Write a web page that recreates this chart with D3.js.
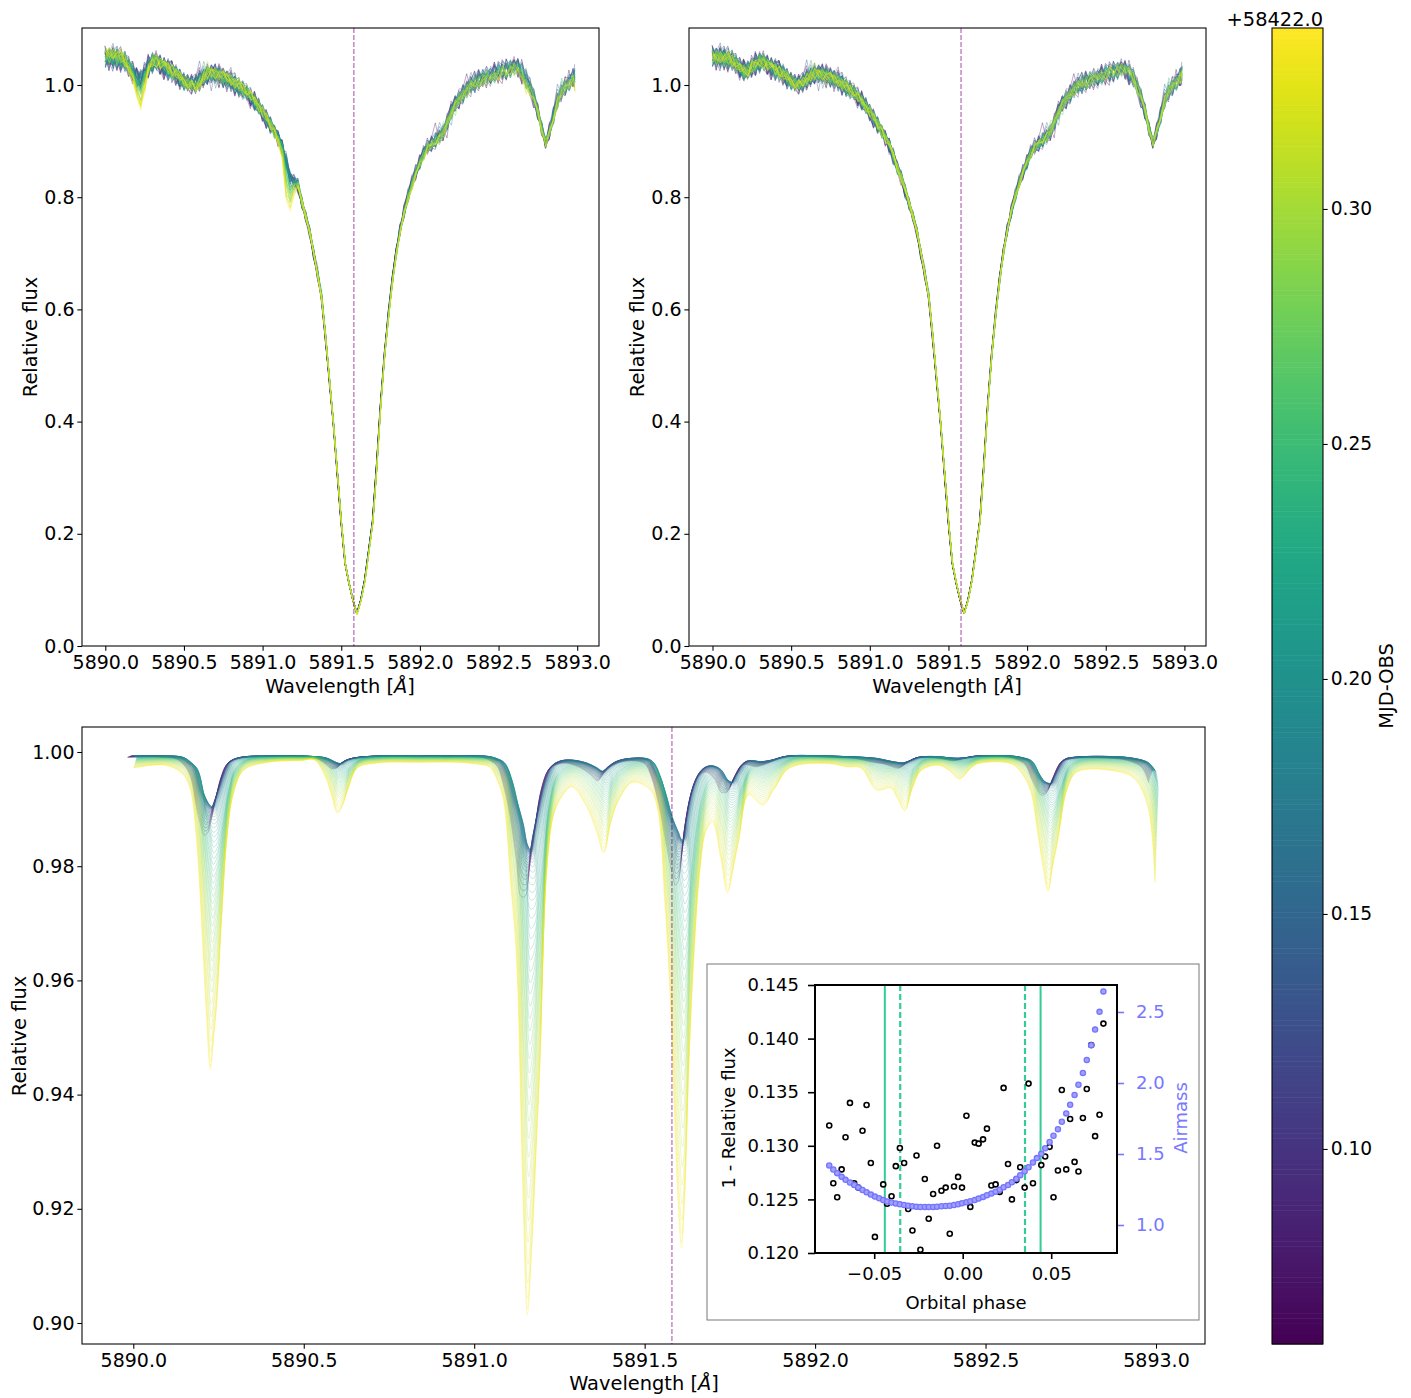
<!DOCTYPE html>
<html>
<head>
<meta charset="utf-8">
<title>Relative flux spectra</title>
<script src="https://cdn.jsdelivr.net/npm/d3@7"></script>
<style>
  body { margin: 0; background: #fff; }
  text { font-family: "DejaVu Sans", sans-serif; fill: #000; }
</style>
</head>
<body>
<svg id="chart" width="1411" height="1398"></svg>
<script>
// --- values ---

// one entry per exposure (67)
var mjdObs = [.0585,.0627,.0670,.0712,.0755,.0797,.0840,.0882,.0924,.0967,.1009,.1052,.1094,.1136,.1179,.1221,.1264,.1306,.1349,.1391,.1433,.1476,.1518,.1561,.1603,.1646,.1688,.1730,.1773,.1815,.1858,.1900,.1942,.1985,.2027,.2070,.2112,.2155,.2197,.2239,.2282,.2324,.2367,.2409,.2452,.2494,.2536,.2579,.2621,.2664,.2706,.2748,.2791,.2833,.2876,.2918,.2961,.3003,.3045,.3088,.3130,.3173,.3215,.3258,.3300,.3342,.3385];
var orbitalPhase = [-.0754,-.0731,-.0709,-.0684,-.0662,-.0637,-.0613,-.0590,-.0566,-.0543,-.0519,-.0496,-.0472,-.0449,-.0427,-.0402,-.0378,-.0355,-.0331,-.0308,-.0284,-.0261,-.0239,-.0214,-.0192,-.0167,-.0145,-.0120,-.0096,-.0073,-.0049,-.0026,-.0004,.0021,.0043,.0068,.0090,.0115,.0137,.0162,.0186,.0209,.0231,.0256,.0278,.0303,.0325,.0350,.0372,.0397,.0419,.0444,.0466,.0491,.0513,.0538,.0560,.0585,.0607,.0632,.0654,.0679,.0701,.0726,.0748,.0773,.0795];
var lineDepth = [.1319,.1265,.1252,.1278,.1308,.1340,.1265,.1261,.1314,.1338,.1284,.1215,null,.1264,.1246,.1253,.1281,.1298,.1284,.1241,.1221,.1291,.1203,.1269,.1232,.1255,.1300,.1258,.1261,.1218,.1262,.1271,.1261,.1328,.1243,.1303,.1302,.1306,.1316,.1263,.1264,.1257,.1354,.1283,.1250,.1268,.1280,.1261,.1358,.1265,null,.1282,.1290,.1299,.1252,.1277,.1352,.1278,.1325,.1285,.1276,.1326,.1353,.1394,.1309,.1329,.1414];
var airmass = [1.419,1.391,1.365,1.339,1.318,1.299,1.282,1.264,1.247,1.231,1.214,1.200,1.188,1.176,1.165,1.158,1.151,1.146,1.141,1.136,1.132,1.129,1.127,1.127,1.127,1.127,1.129,1.132,1.134,1.136,1.141,1.146,1.153,1.160,1.167,1.176,1.186,1.198,1.209,1.221,1.235,1.249,1.266,1.282,1.301,1.325,1.351,1.379,1.407,1.440,1.471,1.501,1.541,1.584,1.628,1.675,1.727,1.786,1.847,1.915,1.988,2.071,2.162,2.266,2.376,2.501,2.645];
// level of the telluric dip near 5890.23 in each exposure, and its small wavelength drift
var dipLevel = [.9855,.9862,.9868,.9874,.9878,.9883,.9887,.9890,.9893,.9896,.9898,.9900,.9902,.9903,.9904,.9905,.9905,.9906,.9906,.9906,.9907,.9907,.9907,.9907,.9906,.9906,.9905,.9904,.9902,.9900,.9897,.9893,.9888,.9882,.9875,.9868,.9860,.9852,.9843,.9834,.9824,.9814,.9804,.9793,.9782,.9771,.9760,.9748,.9736,.9724,.9711,.9697,.9683,.9668,.9652,.9636,.9619,.9601,.9582,.9561,.9539,.9518,.9497,.9478,.9463,.9453,.9447];
var lineShift = [-.018,-.017,-.016,-.015,-.014,-.013,-.012,-.011,-.010,-.010,-.009,-.008,-.008,-.007,-.007,-.006,-.006,-.005,-.005,-.004,-.004,-.003,-.002,-.002,-.001,0,.001,.001,.002,.003,.004,.004,.005,.006,.007,.007,.008,.009,.009,.010,.010,.010,.009,.009,.009,.008,.008,.008,.007,.007,.007,.006,.006,.006,.005,.005,.004,.004,.004,.003,.003,.002,.002,.001,.001,0,0];

// bottom panel: the shallowest and deepest telluric curves on a common wavelength list
var tellWave = [5890,5890.094,5890.144,5890.167,5890.185,5890.203,5890.214,5890.226,5890.235,5890.244,5890.258,5890.273,5890.291,5890.323,5890.396,5890.49,5890.531,5890.564,5890.581,5890.599,5890.613,5890.631,5890.657,5890.719,5890.842,5890.951,5891.018,5891.045,5891.068,5891.086,5891.107,5891.124,5891.142,5891.156,5891.168,5891.18,5891.192,5891.212,5891.233,5891.256,5891.286,5891.33,5891.359,5891.38,5891.4,5891.424,5891.465,5891.517,5891.538,5891.559,5891.576,5891.588,5891.6,5891.608,5891.617,5891.629,5891.644,5891.661,5891.679,5891.699,5891.723,5891.743,5891.761,5891.776,5891.805,5891.846,5891.878,5891.925,5892.037,5892.093,5892.134,5892.181,5892.222,5892.242,5892.263,5892.284,5892.31,5892.36,5892.392,5892.424,5892.457,5892.48,5892.577,5892.609,5892.633,5892.653,5892.671,5892.683,5892.697,5892.712,5892.738,5892.768,5892.876,5892.935,5892.976,5892.997];
var tellDeep = [.9972,.9977,.9962,.9935,.985,.9671,.9545,.9443,.9495,.9553,.97,.984,.9921,.9968,.9982,.9985,.9986,.9956,.9925,.9893,.9905,.9938,.9972,.9981,.9982,.9982,.9978,.9974,.995,.9915,.977,.964,.925,.9014,.912,.928,.9443,.9788,.989,.9921,.9939,.9904,.986,.9823,.9875,.9916,.9947,.9933,.99,.9741,.956,.936,.919,.9131,.9215,.9443,.9641,.9788,.986,.9877,.9815,.9753,.98,.9846,.9925,.9907,.9933,.9972,.998,.9974,.9972,.9933,.9937,.9918,.9897,.9935,.9967,.9977,.9968,.9953,.9972,.998,.9979,.996,.993,.9858,.979,.9755,.98,.9846,.9933,.9965,.9967,.9954,.9904,.977];
var tellShallow = [.9993,.9993,.9991,.9982,.9972,.9933,.9918,.9907,.9904,.9915,.9939,.9965,.9984,.9991,.9993,.9993,.9992,.999,.9986,.9981,.998,.9986,.999,.9993,.9993,.9993,.9993,.9992,.9988,.9982,.9955,.9916,.988,.984,.9828,.986,.9895,.9945,.9975,.9984,.9986,.9981,.9973,.9966,.9975,.9984,.9989,.9986,.9963,.993,.9895,.9876,.986,.9848,.9846,.9885,.993,.9958,.9972,.9976,.997,.9952,.9947,.9962,.9984,.9983,.9986,.9993,.9993,.9992,.9991,.9989,.9984,.9982,.9981,.9985,.9991,.9992,.999,.9989,.9991,.9993,.9993,.999,.9985,.9965,.995,.9946,.9945,.9962,.9987,.9991,.9992,.9989,.9982,.9968];

// top panels: flux every 0.025 A from 5890 on
var fluxRight = [1.05,1.049,1.048,1.047,1.046,1.044,1.038,1.03,1.024,1.025,1.031,1.037,1.041,1.041,1.037,1.032,1.028,1.024,1.018,1.012,1.006,1.002,1,1.004,1.01,1.016,1.02,1.021,1.019,1.016,1.013,1.01,1.006,1.001,.996,.991,.986,.979,.971,.961,.951,.941,.93,.918,.906,.892,.874,.852,.835,.812,.788,.765,.738,.7,.663,.622,.552,.475,.398,.31,.222,.148,.112,.082,.058,.082,.118,.17,.222,.319,.428,.518,.59,.652,.702,.742,.775,.803,.825,.845,.862,.879,.889,.895,.902,.908,.917,.935,.953,.966,.975,.984,.992,.998,1.002,1.005,1.008,1.011,1.014,1.016,1.019,1.022,1.024,1.026,1.028,1.027,1.022,1.014,.996,.976,.952,.921,.897,.918,.945,.971,.988,.998,1.006,1.013,1.02];
var fluxLeftShallow = [1.048,1.048,1.047,1.046,1.045,1.042,1.033,1.024,1.012,1.01,1.021,1.033,1.04,1.041,1.037,1.032,1.028,1.023,1.017,1.011,1.005,1.002,1,1.002,1.008,1.014,1.019,1.021,1.019,1.016,1.012,1.009,1.005,1,.995,.99,.985,.978,.97,.96,.95,.94,.93,.918,.906,.89,.868,.836,.828,.822,.79,.765,.738,.7,.663,.622,.552,.475,.398,.31,.222,.148,.112,.082,.058,.082,.118,.17,.222,.319,.428,.518,.59,.652,.702,.742,.775,.803,.825,.845,.862,.878,.889,.895,.902,.908,.917,.935,.953,.966,.975,.984,.992,.999,1.004,1.008,1.012,1.015,1.018,1.02,1.023,1.026,1.028,1.03,1.032,1.031,1.025,1.012,.996,.976,.952,.921,.897,.918,.945,.971,.988,.998,1.005,1.012,1.017];
var fluxLeftDeep = [1.058,1.057,1.055,1.053,1.05,1.044,1.03,1.008,.978,.964,.99,1.028,1.043,1.044,1.04,1.036,1.032,1.027,1.021,1.013,1.006,1.002,.999,.993,.999,1.014,1.022,1.024,1.022,1.019,1.016,1.013,1.009,1.004,.999,.994,.989,.982,.974,.963,.952,.941,.929,.915,.899,.868,.79,.778,.81,.818,.79,.765,.736,.698,.66,.62,.55,.473,.396,.308,.22,.146,.11,.08,.056,.08,.114,.165,.218,.314,.424,.514,.585,.648,.697,.738,.77,.798,.82,.84,.858,.874,.886,.891,.898,.904,.913,.932,.951,.964,.973,.982,.99,.997,1.001,1.004,1.006,1.009,1.011,1.014,1.017,1.019,1.021,1.024,1.027,1.024,1.008,.992,.99,.972,.948,.919,.895,.915,.942,.968,.985,.995,1.003,1.006,.988];

// scatter of the noisy band in 0.001 flux units: estimated texture, not a per-line reading
var scatterRows = [
  [3,-5,7,-2,-8,4,1,-6,9,-3,5,-7,2,6,-4,-9,3,8,-1,-5,6,-3,-7,4,10,-2,-6,1,7,-8,3,-4,5,9,-6,2,-3,-9,6,1,-5,8,-2,4,-7,3,6,-1,-8,5,2,-4,7,-6,3,-2,8,-5,1,4,-3,6,-7,2,5,-4,1,-6,8,-2,3,-9,6,-1,4,-7,5,2,-3,8,-6,1,9,-4,-2,6,-8,3,5,-1,-7,4,12,-3,-5,7,1,-8,2,6,-4,-9,3,5,-2,7,-6,1,4,-3,8,-5,2,-7,6,3,-1,-4,9,-6,2],
  [-4,6,1,-7,3,8,-2,-5,4,-9,2,7,-3,5,-6,1,9,-4,2,-7,-1,5,8,-3,-6,2,7,-4,-1,6,-8,3,1,-5,7,4,-9,2,6,-3,-1,5,-7,8,2,-4,-6,3,1,7,-5,4,-2,6,-8,1,3,-4,5,-7,2,-1,6,3,-5,8,-2,4,-7,1,5,-3,-6,9,2,-4,-8,6,3,-1,7,-5,-2,4,-9,1,8,-3,5,-6,2,3,-14,4,6,-2,-7,5,1,-4,8,-6,3,-1,7,-8,4,2,-3,5,-6,9,1,-4,-7,6,3,-5,-2],
  [6,2,-8,5,-1,-4,7,3,-6,1,8,-3,-5,4,9,-2,-7,5,1,3,-6,8,-2,-4,6,-9,1,4,-3,7,2,-5,8,-1,-6,3,5,-7,-2,9,4,-3,1,-8,6,-1,5,2,-6,-3,7,1,-4,3,6,-5,-2,8,1,-6,4,-3,-7,5,2,-1,-8,6,3,-4,1,7,-5,-2,-4,5,8,-6,1,3,-7,4,-2,6,1,-9,7,3,-5,-1,8,-4,2,5,16,-3,-8,4,6,-2,-1,7,-5,3,9,-6,-4,2,5,-1,-7,8,3,-3,1,6,-9,-2,4,5,-6],
  [-7,1,4,8,-5,2,-3,6,-1,7,-8,3,1,-6,5,4,-2,-9,7,2,4,-5,1,9,-3,-7,5,-1,8,-4,-6,2,3,-7,1,6,-4,5,8,-2,-6,3,4,-1,-9,7,1,-5,4,-2,3,6,-7,1,-3,5,2,-6,4,-8,7,1,-2,3,-4,5,-6,2,-1,6,-7,4,1,8,-3,-5,2,6,-9,3,4,-1,-6,7,2,-3,5,-8,1,6,-4,3,-5,9,2,-6,1,-3,8,-7,4,2,-5,1,6,-2,-8,3,7,-4,5,-1,2,-6,-3,8,4,-7,1,5,-2],
  [2,-6,-3,5,9,-7,4,-1,3,6,-4,-2,8,-5,1,7,-3,-6,4,-8,5,2,-1,6,-7,3,-4,8,2,-5,9,-1,-6,4,3,-2,7,-8,1,5,-4,6,-3,-1,8,-6,2,4,-7,3,1,-5,9,-2,-4,6,1,-3,-7,5,3,-8,2,4,-1,-6,5,7,-3,-2,6,-4,1,-8,3,5,-6,2,7,-1,-3,4,8,-7,1,-5,3,-2,6,-4,2,7,-9,1,4,-5,-3,8,2,-6,3,5,-7,1,-1,4,-4,-8,6,2,7,-5,3,-1,-6,4,-3,8,1],
  [8,-3,2,-6,4,-1,-8,5,7,-4,-2,6,3,-9,1,4,-5,7,-2,6,3,-8,4,-1,2,5,-9,6,-3,1,4,-7,-2,8,5,-3,-1,6,-5,-7,2,4,8,-6,3,-2,-1,7,4,-8,-3,6,1,-5,8,-3,4,7,-1,-2,-5,3,8,-6,-3,1,4,-7,5,2,-1,-9,6,3,-4,-2,7,1,-5,8,-3,-7,4,2,5,-6,-1,3,7,-8,-2,4,1,-6,6,3,-4,-1,5,-7,8,-2,3,-5,-6,4,1,7,-3,-9,2,6,-1,-4,5,-8,3,7,-2]
];
var spectrumGrid = d3.range(121).map(function(k) { return Math.min(5890 + k * 0.025, 5892.985); });

var lineCentre = 5891.58;
var transitSolid = [-0.044, 0.044];
var transitDashed = [-0.0353, 0.0352];

var waveTicksTop = [5890, 5890.5, 5891, 5891.5, 5892, 5892.5, 5893];
var fluxTicksTop = [0, 0.2, 0.4, 0.6, 0.8, 1];
var fluxTicksBottom = [0.9, 0.92, 0.94, 0.96, 0.98, 1];
var colorTicks = [0.1, 0.15, 0.2, 0.25, 0.3];
var insetDepthTicks = [0.12, 0.125, 0.13, 0.135, 0.14, 0.145];
var insetPhaseTicks = [-0.05, 0, 0.05];
var insetAirmassTicks = [1, 1.5, 2, 2.5];

// --- drawing ---
var svg = d3.select('#chart');
var tickFont = 19;
var labelFont = 19.4;
var insetFont = 18;
var airmassColor = '#7777ff';
var transitColor = '#33cc95';

var color = d3.scaleSequential(d3.interpolateViridis).domain([0.0585, 0.3385]);
var weights = dipLevel.map(function(d) { return (0.9907 - d) / (0.9907 - 0.9447); });
// early exposures scatter further than the late yellow ones
var scatterGain = d3.scaleLinear().domain([0.0585, 0.3385]).range([2.4, 1.2]);

function styleAxis(g, size) {
  g.select('.domain').remove();
  g.selectAll('.tick line').attr('stroke', '#000').attr('stroke-width', 1.07);
  g.selectAll('.tick text').attr('font-size', size).attr('font-family', '"DejaVu Sans", sans-serif');
}

function frame(x0, y0, w, h, sw) {
  svg.append('rect').attr('x', x0).attr('y', y0).attr('width', w).attr('height', h)
    .attr('fill', 'none').attr('stroke', '#000').attr('stroke-width', sw || 1.07);
}

function waveLabel(cx, y) {
  var t = svg.append('text').attr('x', cx).attr('y', y).attr('text-anchor', 'middle').attr('font-size', labelFont);
  t.append('tspan').text('Wavelength [');
  t.append('tspan').attr('font-style', 'italic').text('Å');
  t.append('tspan').text(']');
}

function yLabel(txt, x, cy, size, fill) {
  svg.append('text').attr('transform', 'translate(' + x + ',' + cy + ') rotate(-90)')
    .attr('text-anchor', 'middle').attr('font-size', size).style('fill', fill || '#000').text(txt);
}

function panel(x0, y0, w, h, xScale, yScale, xTicks, yTicks, yFormat) {
  svg.append('g').attr('transform', 'translate(0,' + (y0 + h) + ')')
    .call(d3.axisBottom(xScale).tickValues(xTicks).tickFormat(d3.format('.1f')).tickSize(4.67).tickPadding(4.67))
    .call(styleAxis, tickFont);
  svg.append('g').attr('transform', 'translate(' + x0 + ',0)')
    .call(d3.axisLeft(yScale).tickValues(yTicks).tickFormat(d3.format(yFormat)).tickSize(4.67).tickPadding(2.8))
    .call(styleAxis, tickFont);
}

function centreLine(xScale, yScale, y0, y1) {
  svg.append('line').attr('x1', xScale(lineCentre)).attr('x2', xScale(lineCentre))
    .attr('y1', y0).attr('y2', y1)
    .attr('stroke', 'purple').attr('stroke-opacity', 0.5)
    .attr('stroke-width', 1.4).attr('stroke-dasharray', '5,2');
}

function drawSpectra(xScale, yScale, fluxOf) {
  var line = d3.line().x(function(d) { return xScale(d[0]); }).y(function(d) { return yScale(d[1]); });
  mjdObs.forEach(function(mjd, i) {
    var pts = spectrumGrid.map(function(w, k) {
      var f = fluxOf(i, k);
      var noise = scatterRows[i % 6][(k + i * 5) % 121] * 0.001 * scatterGain(mjd) * f * f;
      // a fraction of the drift: keeps the vertices of different exposures from lining up
      return [w + lineShift[i] * 0.15, f + noise];
    });
    svg.append('path').datum(pts).attr('d', line).attr('fill', 'none')
      .attr('stroke', color(mjd)).attr('stroke-width', 1).attr('stroke-opacity', 0.35);
  });
}

// top left
var xLeft = d3.scaleLinear().domain([5890, 5893]).range([105.3, 577.2]);
var yTop = d3.scaleLinear().domain([0, 1]).range([646, 85]);
panel(82, 28, 517, 618, xLeft, yTop, waveTicksTop, fluxTicksTop, '.1f');
drawSpectra(xLeft, yTop, function(i, k) {
  return fluxLeftShallow[k] + (fluxLeftDeep[k] - fluxLeftShallow[k]) * weights[i];
});
centreLine(xLeft, yTop, 28, 646);
frame(82, 28, 517, 618);
waveLabel(340, 693);
yLabel('Relative flux', 37, 337, labelFont);

// top right
var xRight = d3.scaleLinear().domain([5890, 5893]).range([712.5, 1184.4]);
panel(689, 28, 517, 618, xRight, yTop, waveTicksTop, fluxTicksTop, '.1f');
drawSpectra(xRight, yTop, function(i, k) { return fluxRight[k]; });
centreLine(xRight, yTop, 28, 646);
frame(689, 28, 517, 618);
waveLabel(947, 693);
yLabel('Relative flux', 644, 337, labelFont);

// bottom
var xBottom = d3.scaleLinear().domain([5890, 5893]).range([133.3, 1156]);
var yBottom = d3.scaleLinear().domain([0.9, 1]).range([1323, 752]);
panel(82, 727, 1123, 617, xBottom, yBottom, waveTicksTop, fluxTicksBottom, '.2f');
var tellLine = d3.line().curve(d3.curveCatmullRom.alpha(0.5))
  .x(function(d) { return xBottom(d[0]); }).y(function(d) { return yBottom(d[1]); });
mjdObs.forEach(function(mjd, i) {
  var pts = tellWave.map(function(w, k) {
    return [w + lineShift[i], tellShallow[k] + (tellDeep[k] - tellShallow[k]) * weights[i]];
  });
  svg.append('path').datum(pts).attr('d', tellLine).attr('fill', 'none')
    .attr('stroke', color(mjd)).attr('stroke-width', 0.7).attr('stroke-opacity', 0.35);
});
centreLine(xBottom, yBottom, 727, 1344);
frame(82, 727, 1123, 617);
waveLabel(644, 1390);
yLabel('Relative flux', 26, 1036, labelFont);

// inset
svg.append('rect').attr('x', 707).attr('y', 964).attr('width', 492).attr('height', 356)
  .attr('fill', '#fff').attr('stroke', '#808080').attr('stroke-width', 1.07);
var xInset = d3.scaleLinear().domain([-0.05, 0.05]).range([874.2, 1051.2]);
var yInset = d3.scaleLinear().domain([0.12, 0.145]).range([1253, 985]);
var yAirmass = d3.scaleLinear().domain([1, 2.5]).range([1225, 1012]);

transitSolid.forEach(function(p) {
  svg.append('line').attr('x1', xInset(p)).attr('x2', xInset(p)).attr('y1', 985).attr('y2', 1253)
    .attr('stroke', transitColor).attr('stroke-width', 2);
});
transitDashed.forEach(function(p) {
  svg.append('line').attr('x1', xInset(p)).attr('x2', xInset(p)).attr('y1', 985).attr('y2', 1253)
    .attr('stroke', transitColor).attr('stroke-width', 2.2).attr('stroke-dasharray', '6,3');
});

svg.append('g').selectAll('circle').data(orbitalPhase.map(function(p, i) { return [p, lineDepth[i]]; })
    .filter(function(d) { return d[1] !== null; }))
  .enter().append('circle')
  .attr('cx', function(d) { return xInset(d[0]); }).attr('cy', function(d) { return yInset(d[1]); })
  .attr('r', 2.5).attr('fill', '#fff').attr('stroke', '#000').attr('stroke-width', 1.6);

svg.append('g').selectAll('circle').data(orbitalPhase.map(function(p, i) { return [p, airmass[i]]; }))
  .enter().append('circle')
  .attr('cx', function(d) { return xInset(d[0]); }).attr('cy', function(d) { return yAirmass(d[1]); })
  .attr('r', 2.6).attr('fill', '#a0a0ff').attr('stroke', '#7474ff').attr('stroke-width', 1.3);

svg.append('g').attr('transform', 'translate(0,1253)')
  .call(d3.axisBottom(xInset).tickValues(insetPhaseTicks).tickFormat(d3.format('.2f')).tickSize(6).tickPadding(8))
  .call(styleAxis, insetFont)
  .call(function(g) { g.selectAll('.tick line').attr('stroke-width', 1.6); });
svg.append('g').attr('transform', 'translate(815,0)')
  .call(d3.axisLeft(yInset).tickValues(insetDepthTicks).tickFormat(d3.format('.3f')).tickSize(7).tickPadding(9))
  .call(styleAxis, insetFont)
  .call(function(g) { g.selectAll('.tick line').attr('stroke-width', 1.6); });
svg.append('g').attr('transform', 'translate(1117,0)')
  .call(d3.axisRight(yAirmass).tickValues(insetAirmassTicks).tickFormat(d3.format('.1f')).tickSize(7).tickPadding(12))
  .call(styleAxis, insetFont)
  .call(function(g) {
    g.selectAll('.tick line').attr('stroke', airmassColor).attr('stroke-width', 1.6);
    g.selectAll('.tick text').style('fill', airmassColor);
  });
frame(815, 985, 302, 268, 2);
svg.append('text').attr('x', 966).attr('y', 1309).attr('text-anchor', 'middle')
  .attr('font-size', insetFont).text('Orbital phase');
yLabel('1 - Relative flux', 735, 1118, insetFont);
yLabel('Airmass', 1187, 1118, insetFont, airmassColor);

// colorbar
var yColor = d3.scaleLinear().domain([0.0585, 0.3385]).range([1344, 28]);
var barSteps = d3.range(256).map(function(k) { return 0.0585 + (0.28 * k) / 256; });
svg.append('g').selectAll('rect').data(barSteps).enter().append('rect')
  .attr('x', 1272).attr('width', 51)
  .attr('y', function(d) { return yColor(d + 0.28 / 256); })
  .attr('height', 1316 / 256 + 0.5)
  .attr('fill', function(d) { return color(d + 0.14 / 256); });
svg.append('g').attr('transform', 'translate(1323,0)')
  .call(d3.axisRight(yColor).tickValues(colorTicks).tickFormat(d3.format('.2f')).tickSize(4.67).tickPadding(3))
  .call(styleAxis, 18.67);
frame(1272, 28, 51, 1316);
svg.append('text').attr('x', 1323).attr('y', 26).attr('text-anchor', 'end')
  .attr('font-size', labelFont).text('+58422.0');
yLabel('MJD-OBS', 1393, 686, labelFont);
</script>
</body>
</html>
